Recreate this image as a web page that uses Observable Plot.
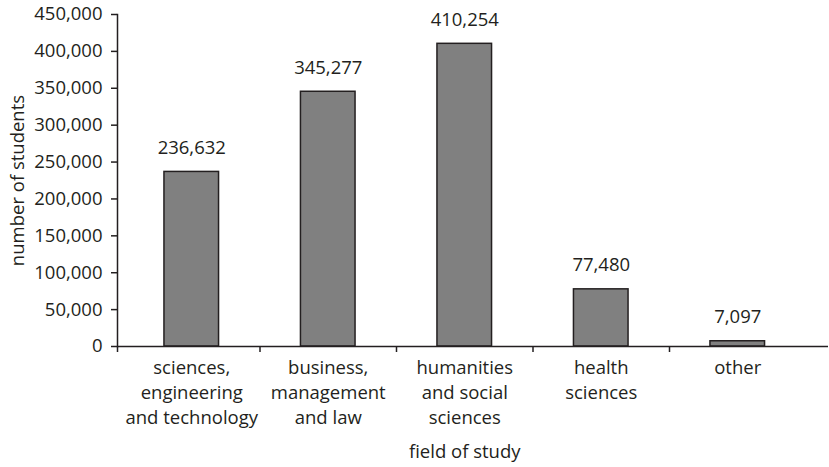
<!DOCTYPE html>
<html>
<head>
<meta charset="utf-8">
<script src="https://cdn.jsdelivr.net/npm/d3@7"></script>
<script src="https://cdn.jsdelivr.net/npm/@observablehq/plot@0.6"></script>
<style>
  html, body { margin: 0; padding: 0; background: #fff; }
  #chart svg { display: block; }
</style>
</head>
<body>
<div id="chart"></div>
<script>
const categories = [
  "sciences,\nengineering\nand technology",
  "business,\nmanagement\nand law",
  "humanities\nand social\nsciences",
  "health\nsciences",
  "other"
];
const students = [236632, 345277, 410254, 77480, 7097];
const yTicks = [0, 50000, 100000, 150000, 200000, 250000, 300000, 350000, 400000, 450000];
const xTitle = "field of study";
const yTitle = "number of students";

const data = categories.map((c, i) => ({category: c, index: i, value: students[i]}));
const boundaries = d3.range(1, categories.length);

const ink = "#231f20";
const fmt = d3.format(",");
const fs = 18.5;

const chart = Plot.plot({
  width: 829,
  height: 467,
  marginLeft: 117,
  marginRight: 1,
  marginTop: 14,
  marginBottom: 121,
  style: {fontFamily: "'Open Sans', sans-serif", fontSize: fs + "px", color: ink, background: "white"},
  x: {type: "linear", domain: [0, categories.length], range: [123, 805.5], axis: null},
  y: {type: "linear", domain: [0, 450000], range: [346, 14], axis: null},
  marks: [
    Plot.rectY(data, {
      x1: d => d.index + 0.3,
      x2: d => d.index + 0.7,
      y1: 0,
      y2: "value",
      fill: "#808080",
      stroke: ink,
      strokeWidth: 1.5
    }),
    Plot.frame({anchor: "left", stroke: ink, strokeWidth: 1.5}),
    Plot.ruleY([0], {stroke: ink, strokeWidth: 1.5}),
    Plot.ruleX(boundaries, {x: d => d, y1: 0, y2: 0, insetBottom: -6, stroke: ink, strokeWidth: 1.5}),
    Plot.ruleX([0], {x: d => d, y1: 0, y2: 0, insetBottom: -6, dx: -6, stroke: ink, strokeWidth: 1.5}),
    Plot.axisY({
      ticks: yTicks,
      tickFormat: fmt,
      tickSize: 6,
      tickPadding: 9,
      stroke: ink,
      strokeWidth: 1.5,
      fill: ink,
      fontSize: fs,
      label: null
    }),
    Plot.text(data, {
      x: d => d.index + 0.5,
      y: 0,
      text: "category",
      lineAnchor: "top",
      lineHeight: 25 / fs,
      dy: 10,
      fill: ink,
      fontSize: fs
    }),
    Plot.text(data, {
      x: d => d.index + 0.5,
      y: "value",
      text: d => fmt(d.value),
      lineAnchor: "bottom",
      dy: -18,
      fill: ink,
      fontSize: fs
    }),
    Plot.text([xTitle], {
      x: categories.length / 2,
      y: 0,
      text: d => d,
      lineAnchor: "bottom",
      dy: 111,
      fill: ink,
      fontSize: fs
    }),
    Plot.text([yTitle], {
      frameAnchor: "left",
      text: d => d,
      rotate: -90,
      dx: -99,
      textAnchor: "middle",
      lineAnchor: "middle",
      fill: ink,
      fontSize: fs
    })
  ]
});
document.getElementById("chart").append(chart);
</script>
</body>
</html>
